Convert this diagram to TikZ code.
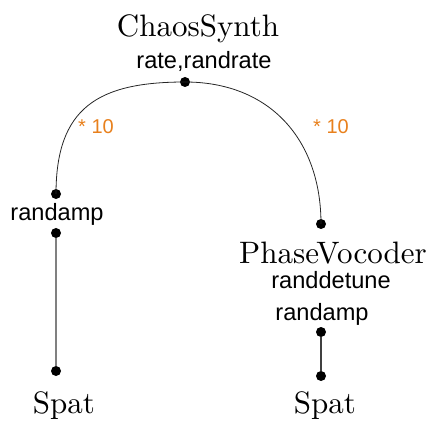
\documentclass[tikz,border=0pt]{standalone}
\usepackage{fontspec}
\setsansfont{Liberation Sans}
\newfontfamily\bigserif{lmroman10-regular.otf}
\definecolor{lbl}{RGB}{232,128,28}
\begin{document}
\begin{tikzpicture}[x=1pt,y=-1pt,
  title/.style={font=\bigserif\fontsize{31}{31}\selectfont, anchor=base, inner sep=0pt},
  port/.style={font=\sffamily\fontsize{23.6}{24}\selectfont, anchor=base, inner sep=0pt},
  mult/.style={font=\sffamily\fontsize{20}{20}\selectfont, anchor=base, inner sep=0pt, text=lbl},
  pdot/.style={circle, fill=black, inner sep=0pt, minimum size=10pt},
  curve/.style={draw=black!85, line width=0.8pt},
  vline/.style={draw=black!50, line width=2pt},
  vlinedark/.style={draw=black!75, line width=1.4pt}]
\useasboundingbox (0,0) rectangle (441,427);
% text
\node[title] (chaos) at (198,37) {ChaosSynth};
\node[port] (chaosp) at (204,69) {rate,randrate};
\node[port] (randampL) at (57,221) {randamp};
\node[title] (spatL) at (64,413) {Spat};
\node[title] (pv) at (333,263) {PhaseVocoder};
\node[port] (pvdet) at (331,288) {randdetune};
\node[port] (randampR) at (322,320) {randamp};
\node[title] (spatR) at (325,413) {Spat};
\node[mult] (m1) at (96,134) {* 10};
\node[mult] (m2) at (331,134) {* 10};
% dots
\node[pdot] (d0) at (185,82) {};
\node[pdot] (d1) at (56,194) {};
\node[pdot] (d2) at (56,233) {};
\node[pdot] (d3) at (56,371) {};
\node[pdot] (d4) at (321,224) {};
\node[pdot] (d5) at (321,332) {};
\node[pdot] (d6) at (321,376) {};
% connectors
\draw[curve] (d0.center) to[out=180,in=90,looseness=1.3] (d1.center);
\draw[curve] (d0.center) to[out=0,in=90,looseness=1.1] (d4.center);
\draw[vline] (d2) -- (d3);
\draw[vlinedark] (d5) -- (d6);
\end{tikzpicture}
\end{document}
